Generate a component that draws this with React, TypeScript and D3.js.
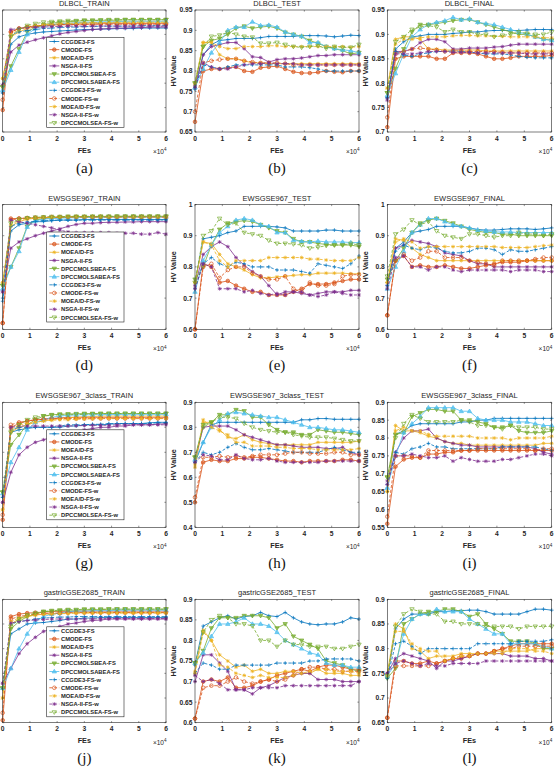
import React from 'react';
import * as d3 from 'd3';

const FES = [0, 0.3, 0.6, 0.9, 1.2, 1.5, 1.8, 2.1, 2.4, 2.7, 3.0, 3.3, 3.6, 3.9, 4.2, 4.5, 4.8, 5.1, 5.4, 5.7, 6.0];
const X_TICKS = [0, 1, 2, 3, 4, 5, 6];
const ALGORITHMS = ['CCGDE3-FS', 'CMODE-FS', 'MOEA/D-FS', 'NSGA-II-FS', 'DPCCMOLSBEA-FS', 'DPCCMOLSABEA-FS', 'CCGDE3-FS-w', 'CMODE-FS-w', 'MOEA/D-FS-w', 'NSGA-II-FS-w', 'DPCCMOLSEA-FS-w'];

const DLBCL_TRAIN = [
  [0.78, 0.88, 0.895, 0.9, 0.903, 0.905, 0.906, 0.907, 0.908, 0.909, 0.91, 0.91, 0.911, 0.911, 0.912, 0.912, 0.912, 0.913, 0.913, 0.913, 0.913],
  [0.745, 0.905, 0.912, 0.915, 0.917, 0.918, 0.919, 0.92, 0.92, 0.921, 0.921, 0.921, 0.922, 0.922, 0.922, 0.922, 0.922, 0.922, 0.922, 0.922, 0.922],
  [0.81, 0.895, 0.905, 0.912, 0.915, 0.918, 0.92, 0.921, 0.922, 0.923, 0.923, 0.924, 0.924, 0.924, 0.925, 0.925, 0.925, 0.925, 0.925, 0.925, 0.925],
  [0.796, 0.864, 0.878, 0.884, 0.889, 0.893, 0.897, 0.901, 0.904, 0.906, 0.908, 0.91, 0.911, 0.912, 0.913, 0.913, 0.914, 0.914, 0.915, 0.915, 0.915],
  [0.792, 0.835, 0.87, 0.905, 0.915, 0.92, 0.923, 0.925, 0.926, 0.927, 0.928, 0.928, 0.929, 0.929, 0.929, 0.93, 0.93, 0.93, 0.93, 0.93, 0.93],
  [0.786, 0.827, 0.864, 0.9, 0.912, 0.917, 0.92, 0.922, 0.923, 0.924, 0.925, 0.925, 0.926, 0.926, 0.926, 0.927, 0.927, 0.927, 0.927, 0.927, 0.927],
  [0.78, 0.9, 0.905, 0.908, 0.91, 0.912, 0.913, 0.914, 0.915, 0.915, 0.916, 0.916, 0.917, 0.917, 0.917, 0.917, 0.917, 0.918, 0.918, 0.918, 0.918],
  [0.766, 0.905, 0.912, 0.915, 0.917, 0.918, 0.919, 0.92, 0.92, 0.92, 0.921, 0.921, 0.921, 0.921, 0.921, 0.921, 0.921, 0.921, 0.921, 0.921, 0.921],
  [0.81, 0.9, 0.91, 0.915, 0.918, 0.92, 0.921, 0.922, 0.923, 0.923, 0.924, 0.924, 0.924, 0.925, 0.925, 0.925, 0.925, 0.925, 0.925, 0.925, 0.925],
  [0.796, 0.91, 0.912, 0.914, 0.915, 0.915, 0.916, 0.916, 0.917, 0.917, 0.917, 0.917, 0.917, 0.917, 0.917, 0.917, 0.917, 0.917, 0.917, 0.917, 0.917],
  [0.792, 0.895, 0.91, 0.918, 0.922, 0.925, 0.926, 0.927, 0.928, 0.928, 0.929, 0.929, 0.929, 0.93, 0.93, 0.93, 0.93, 0.93, 0.93, 0.93, 0.93],
];
const DLBCL_TEST = [
  [0.755, 0.84, 0.865, 0.875, 0.877, 0.88, 0.88, 0.88, 0.882, 0.885, 0.885, 0.885, 0.885, 0.887, 0.887, 0.887, 0.886, 0.884, 0.886, 0.888, 0.887],
  [0.675, 0.8, 0.805, 0.805, 0.808, 0.81, 0.8, 0.798, 0.808, 0.81, 0.812, 0.805, 0.798, 0.795, 0.795, 0.797, 0.8, 0.798, 0.797, 0.8, 0.8],
  [0.765, 0.87, 0.872, 0.84, 0.83, 0.83, 0.825, 0.82, 0.82, 0.818, 0.818, 0.818, 0.818, 0.818, 0.818, 0.818, 0.818, 0.818, 0.818, 0.818, 0.818],
  [0.765, 0.84, 0.86, 0.865, 0.87, 0.87, 0.855, 0.835, 0.833, 0.822, 0.828, 0.83, 0.83, 0.832, 0.835, 0.838, 0.838, 0.84, 0.84, 0.84, 0.84],
  [0.77, 0.86, 0.875, 0.88, 0.89, 0.905, 0.91, 0.905, 0.908, 0.91, 0.905, 0.895, 0.89, 0.885, 0.875, 0.868, 0.86, 0.855, 0.85, 0.842, 0.845],
  [0.76, 0.805, 0.845, 0.87, 0.9, 0.908, 0.908, 0.921, 0.912, 0.913, 0.908, 0.896, 0.89, 0.885, 0.87, 0.87, 0.86, 0.855, 0.852, 0.85, 0.845],
  [0.76, 0.815, 0.81, 0.805, 0.81, 0.815, 0.815, 0.815, 0.815, 0.815, 0.815, 0.81, 0.81, 0.81, 0.808, 0.805, 0.8, 0.8, 0.8, 0.8, 0.8],
  [0.7, 0.82, 0.825, 0.828, 0.83, 0.83, 0.825, 0.822, 0.82, 0.82, 0.82, 0.818, 0.815, 0.815, 0.815, 0.815, 0.815, 0.815, 0.815, 0.815, 0.815],
  [0.77, 0.87, 0.87, 0.86, 0.855, 0.855, 0.86, 0.86, 0.86, 0.862, 0.862, 0.86, 0.86, 0.86, 0.86, 0.86, 0.86, 0.86, 0.86, 0.858, 0.86],
  [0.76, 0.82, 0.81, 0.805, 0.805, 0.81, 0.815, 0.818, 0.818, 0.82, 0.818, 0.818, 0.818, 0.815, 0.815, 0.815, 0.815, 0.815, 0.815, 0.815, 0.815],
  [0.77, 0.86, 0.885, 0.888, 0.895, 0.89, 0.885, 0.883, 0.868, 0.868, 0.87, 0.865, 0.86, 0.858, 0.86, 0.862, 0.855, 0.86, 0.858, 0.858, 0.865],
];
const DLBCL_FINAL = [
  [0.77, 0.87, 0.885, 0.895, 0.897, 0.9, 0.9, 0.9, 0.902, 0.903, 0.905, 0.905, 0.907, 0.908, 0.908, 0.908, 0.908, 0.909, 0.91, 0.91, 0.91],
  [0.71, 0.85, 0.855, 0.855, 0.855, 0.855, 0.85, 0.85, 0.862, 0.862, 0.862, 0.86, 0.855, 0.85, 0.85, 0.852, 0.855, 0.855, 0.855, 0.855, 0.857],
  [0.79, 0.89, 0.895, 0.895, 0.89, 0.87, 0.87, 0.868, 0.868, 0.868, 0.868, 0.868, 0.866, 0.866, 0.866, 0.866, 0.866, 0.866, 0.866, 0.866, 0.866],
  [0.77, 0.865, 0.865, 0.87, 0.883, 0.89, 0.89, 0.885, 0.87, 0.87, 0.872, 0.872, 0.872, 0.874, 0.875, 0.878, 0.88, 0.88, 0.88, 0.88, 0.88],
  [0.78, 0.83, 0.87, 0.905, 0.92, 0.92, 0.922, 0.925, 0.928, 0.93, 0.93, 0.925, 0.92, 0.915, 0.91, 0.905, 0.9, 0.9, 0.895, 0.89, 0.888],
  [0.775, 0.82, 0.86, 0.895, 0.91, 0.92, 0.925, 0.928, 0.935, 0.93, 0.932, 0.925, 0.922, 0.92, 0.915, 0.91, 0.905, 0.9, 0.895, 0.89, 0.888],
  [0.77, 0.865, 0.858, 0.855, 0.86, 0.862, 0.865, 0.865, 0.866, 0.865, 0.864, 0.862, 0.86, 0.86, 0.86, 0.858, 0.855, 0.853, 0.852, 0.852, 0.852],
  [0.73, 0.86, 0.865, 0.87, 0.872, 0.87, 0.868, 0.865, 0.866, 0.866, 0.865, 0.865, 0.865, 0.865, 0.863, 0.862, 0.862, 0.862, 0.862, 0.862, 0.862],
  [0.79, 0.88, 0.89, 0.89, 0.893, 0.895, 0.895, 0.895, 0.897, 0.898, 0.898, 0.897, 0.897, 0.896, 0.896, 0.895, 0.895, 0.895, 0.895, 0.893, 0.893],
  [0.765, 0.86, 0.86, 0.86, 0.862, 0.865, 0.865, 0.865, 0.863, 0.863, 0.863, 0.862, 0.862, 0.862, 0.862, 0.862, 0.862, 0.86, 0.86, 0.86, 0.86],
  [0.78, 0.885, 0.895, 0.91, 0.915, 0.918, 0.915, 0.905, 0.91, 0.905, 0.905, 0.9, 0.9, 0.895, 0.898, 0.9, 0.905, 0.902, 0.9, 0.9, 0.905],
];
const EWS_TRAIN = [
  [0.7, 0.915, 0.935, 0.94, 0.945, 0.945, 0.948, 0.95, 0.95, 0.95, 0.952, 0.952, 0.952, 0.952, 0.952, 0.952, 0.952, 0.952, 0.952, 0.952, 0.952],
  [0.62, 0.955, 0.955, 0.956, 0.957, 0.958, 0.958, 0.959, 0.959, 0.96, 0.96, 0.96, 0.96, 0.96, 0.96, 0.96, 0.96, 0.96, 0.96, 0.96, 0.96],
  [0.75, 0.93, 0.945, 0.953, 0.956, 0.958, 0.959, 0.96, 0.96, 0.961, 0.961, 0.961, 0.962, 0.962, 0.962, 0.962, 0.962, 0.962, 0.962, 0.962, 0.962],
  [0.72, 0.86, 0.88, 0.89, 0.9, 0.908, 0.915, 0.922, 0.93, 0.936, 0.94, 0.94, 0.942, 0.943, 0.943, 0.944, 0.944, 0.945, 0.945, 0.945, 0.945],
  [0.74, 0.8, 0.86, 0.93, 0.95, 0.955, 0.957, 0.958, 0.959, 0.96, 0.96, 0.961, 0.961, 0.961, 0.962, 0.962, 0.962, 0.962, 0.962, 0.962, 0.962],
  [0.73, 0.8, 0.85, 0.928, 0.948, 0.953, 0.955, 0.956, 0.957, 0.958, 0.958, 0.959, 0.959, 0.96, 0.96, 0.96, 0.96, 0.96, 0.96, 0.96, 0.96],
  [0.69, 0.93, 0.94, 0.944, 0.946, 0.948, 0.949, 0.95, 0.95, 0.95, 0.95, 0.95, 0.95, 0.95, 0.95, 0.95, 0.95, 0.95, 0.95, 0.95, 0.95],
  [0.62, 0.95, 0.955, 0.957, 0.958, 0.959, 0.96, 0.96, 0.96, 0.96, 0.96, 0.96, 0.96, 0.96, 0.96, 0.96, 0.96, 0.96, 0.96, 0.96, 0.96],
  [0.75, 0.935, 0.95, 0.955, 0.957, 0.958, 0.959, 0.96, 0.96, 0.96, 0.96, 0.96, 0.96, 0.96, 0.96, 0.96, 0.96, 0.96, 0.96, 0.96, 0.96],
  [0.72, 0.95, 0.945, 0.94, 0.935, 0.93, 0.925, 0.918, 0.912, 0.91, 0.91, 0.91, 0.91, 0.91, 0.908, 0.908, 0.908, 0.905, 0.905, 0.91, 0.905],
  [0.74, 0.94, 0.953, 0.957, 0.959, 0.96, 0.961, 0.961, 0.962, 0.962, 0.962, 0.962, 0.962, 0.962, 0.962, 0.962, 0.962, 0.962, 0.962, 0.962, 0.962],
];
const EWS_TEST = [
  [0.75, 0.89, 0.895, 0.9, 0.91, 0.915, 0.93, 0.93, 0.93, 0.93, 0.928, 0.925, 0.915, 0.915, 0.915, 0.915, 0.918, 0.918, 0.915, 0.915, 0.915],
  [0.6, 0.81, 0.8, 0.75, 0.755, 0.74, 0.73, 0.72, 0.72, 0.71, 0.71, 0.71, 0.72, 0.73, 0.745, 0.745, 0.745, 0.75, 0.755, 0.76, 0.76],
  [0.75, 0.88, 0.875, 0.84, 0.81, 0.8, 0.79, 0.775, 0.765, 0.765, 0.768, 0.77, 0.773, 0.775, 0.775, 0.78, 0.78, 0.78, 0.78, 0.778, 0.778],
  [0.74, 0.84, 0.865, 0.88, 0.865, 0.83, 0.805, 0.785, 0.77, 0.74, 0.71, 0.72, 0.72, 0.715, 0.71, 0.715, 0.72, 0.72, 0.72, 0.725, 0.725],
  [0.76, 0.8, 0.87, 0.92, 0.94, 0.945, 0.948, 0.945, 0.935, 0.925, 0.915, 0.91, 0.89, 0.88, 0.88, 0.875, 0.872, 0.87, 0.87, 0.87, 0.865],
  [0.72, 0.82, 0.87, 0.91, 0.93, 0.95, 0.955, 0.95, 0.935, 0.93, 0.91, 0.91, 0.885, 0.882, 0.88, 0.883, 0.88, 0.88, 0.88, 0.878, 0.878],
  [0.73, 0.81, 0.83, 0.81, 0.8, 0.815, 0.81, 0.8, 0.8, 0.8, 0.79, 0.79, 0.79, 0.785, 0.78, 0.81, 0.805, 0.8, 0.795, 0.81, 0.835],
  [0.6, 0.8, 0.81, 0.765, 0.79, 0.8, 0.8, 0.78, 0.77, 0.76, 0.76, 0.77, 0.73, 0.72, 0.75, 0.74, 0.74, 0.745, 0.77, 0.775, 0.775],
  [0.75, 0.88, 0.87, 0.82, 0.8, 0.82, 0.82, 0.82, 0.82, 0.83, 0.83, 0.83, 0.83, 0.83, 0.825, 0.825, 0.822, 0.82, 0.82, 0.82, 0.83],
  [0.73, 0.81, 0.8, 0.73, 0.73, 0.73, 0.72, 0.725, 0.715, 0.71, 0.715, 0.71, 0.72, 0.72, 0.71, 0.705, 0.71, 0.72, 0.715, 0.71, 0.71],
  [0.75, 0.9, 0.915, 0.955, 0.935, 0.94, 0.91, 0.905, 0.9, 0.885, 0.875, 0.875, 0.873, 0.87, 0.86, 0.863, 0.868, 0.87, 0.87, 0.875, 0.87],
];
const EWS_FINAL = [
  [0.75, 0.86, 0.88, 0.91, 0.915, 0.92, 0.93, 0.93, 0.93, 0.93, 0.925, 0.92, 0.918, 0.918, 0.92, 0.922, 0.922, 0.922, 0.92, 0.922, 0.925],
  [0.645, 0.82, 0.835, 0.8, 0.805, 0.8, 0.8, 0.805, 0.8, 0.795, 0.795, 0.8, 0.805, 0.81, 0.815, 0.815, 0.815, 0.82, 0.82, 0.82, 0.82],
  [0.75, 0.89, 0.885, 0.86, 0.84, 0.83, 0.82, 0.82, 0.82, 0.82, 0.82, 0.82, 0.82, 0.82, 0.82, 0.82, 0.82, 0.82, 0.82, 0.82, 0.82],
  [0.74, 0.86, 0.87, 0.885, 0.88, 0.875, 0.865, 0.845, 0.84, 0.835, 0.82, 0.81, 0.81, 0.8, 0.8, 0.8, 0.8, 0.8, 0.8, 0.8, 0.8],
  [0.76, 0.82, 0.86, 0.91, 0.94, 0.95, 0.955, 0.948, 0.94, 0.93, 0.92, 0.915, 0.91, 0.91, 0.905, 0.905, 0.9, 0.9, 0.9, 0.9, 0.9],
  [0.73, 0.8, 0.85, 0.91, 0.935, 0.955, 0.955, 0.945, 0.935, 0.93, 0.925, 0.918, 0.915, 0.912, 0.912, 0.912, 0.91, 0.91, 0.91, 0.91, 0.91],
  [0.74, 0.85, 0.87, 0.86, 0.855, 0.865, 0.86, 0.85, 0.845, 0.845, 0.85, 0.86, 0.86, 0.855, 0.84, 0.855, 0.85, 0.85, 0.855, 0.86, 0.865],
  [0.645, 0.82, 0.84, 0.82, 0.83, 0.85, 0.85, 0.83, 0.83, 0.83, 0.82, 0.815, 0.81, 0.805, 0.82, 0.82, 0.82, 0.82, 0.825, 0.83, 0.83],
  [0.75, 0.88, 0.89, 0.88, 0.86, 0.865, 0.865, 0.865, 0.865, 0.865, 0.865, 0.865, 0.865, 0.865, 0.862, 0.862, 0.862, 0.862, 0.865, 0.868, 0.87],
  [0.73, 0.83, 0.835, 0.8, 0.8, 0.79, 0.8, 0.8, 0.79, 0.785, 0.79, 0.79, 0.79, 0.79, 0.79, 0.785, 0.79, 0.79, 0.79, 0.785, 0.785],
  [0.77, 0.905, 0.92, 0.95, 0.935, 0.945, 0.915, 0.9, 0.895, 0.89, 0.905, 0.905, 0.9, 0.895, 0.9, 0.9, 0.91, 0.905, 0.905, 0.9, 0.905],
];
const EWS3_TRAIN = [
  [0.52, 0.78, 0.79, 0.795, 0.8, 0.8, 0.8, 0.8, 0.805, 0.805, 0.81, 0.81, 0.81, 0.812, 0.815, 0.815, 0.815, 0.815, 0.818, 0.82, 0.82],
  [0.43, 0.8, 0.815, 0.825, 0.83, 0.832, 0.835, 0.838, 0.84, 0.84, 0.84, 0.84, 0.84, 0.84, 0.84, 0.84, 0.84, 0.84, 0.84, 0.84, 0.84],
  [0.47, 0.78, 0.8, 0.81, 0.82, 0.825, 0.83, 0.835, 0.838, 0.84, 0.842, 0.843, 0.845, 0.845, 0.845, 0.845, 0.845, 0.845, 0.845, 0.845, 0.845],
  [0.5, 0.62, 0.69, 0.72, 0.74, 0.75, 0.76, 0.765, 0.77, 0.78, 0.79, 0.795, 0.8, 0.8, 0.805, 0.805, 0.81, 0.81, 0.81, 0.812, 0.815],
  [0.54, 0.73, 0.77, 0.81, 0.83, 0.845, 0.85, 0.852, 0.853, 0.854, 0.855, 0.855, 0.855, 0.855, 0.855, 0.855, 0.855, 0.855, 0.855, 0.855, 0.855],
  [0.535, 0.66, 0.72, 0.79, 0.82, 0.83, 0.84, 0.845, 0.848, 0.85, 0.85, 0.85, 0.851, 0.851, 0.851, 0.852, 0.852, 0.852, 0.852, 0.852, 0.852],
  [0.52, 0.79, 0.8, 0.8, 0.8, 0.8, 0.8, 0.805, 0.81, 0.81, 0.81, 0.812, 0.812, 0.815, 0.815, 0.815, 0.815, 0.815, 0.815, 0.818, 0.818],
  [0.45, 0.81, 0.82, 0.825, 0.83, 0.832, 0.835, 0.835, 0.835, 0.835, 0.835, 0.835, 0.835, 0.835, 0.835, 0.835, 0.835, 0.835, 0.835, 0.835, 0.835],
  [0.47, 0.79, 0.81, 0.815, 0.82, 0.825, 0.828, 0.83, 0.83, 0.832, 0.833, 0.834, 0.835, 0.835, 0.835, 0.835, 0.835, 0.835, 0.835, 0.835, 0.835],
  [0.5, 0.8, 0.805, 0.805, 0.805, 0.805, 0.805, 0.805, 0.805, 0.806, 0.807, 0.808, 0.808, 0.808, 0.81, 0.81, 0.81, 0.81, 0.81, 0.81, 0.81],
  [0.54, 0.78, 0.81, 0.83, 0.84, 0.845, 0.848, 0.85, 0.85, 0.851, 0.852, 0.853, 0.854, 0.855, 0.855, 0.855, 0.855, 0.855, 0.855, 0.855, 0.855],
];
const EWS3_TEST = [
  [0.66, 0.74, 0.81, 0.82, 0.82, 0.82, 0.82, 0.82, 0.82, 0.82, 0.82, 0.82, 0.82, 0.83, 0.83, 0.835, 0.835, 0.832, 0.832, 0.832, 0.832],
  [0.5, 0.66, 0.67, 0.665, 0.665, 0.675, 0.675, 0.68, 0.68, 0.675, 0.67, 0.665, 0.665, 0.66, 0.665, 0.665, 0.665, 0.665, 0.67, 0.67, 0.665],
  [0.64, 0.82, 0.82, 0.79, 0.76, 0.755, 0.77, 0.75, 0.74, 0.735, 0.73, 0.73, 0.73, 0.73, 0.73, 0.74, 0.74, 0.74, 0.74, 0.74, 0.745],
  [0.67, 0.8, 0.805, 0.805, 0.805, 0.79, 0.77, 0.76, 0.75, 0.74, 0.73, 0.73, 0.725, 0.72, 0.72, 0.72, 0.715, 0.715, 0.72, 0.7, 0.69],
  [0.68, 0.81, 0.82, 0.85, 0.85, 0.87, 0.865, 0.84, 0.84, 0.81, 0.79, 0.78, 0.78, 0.77, 0.77, 0.79, 0.785, 0.78, 0.78, 0.775, 0.77],
  [0.67, 0.74, 0.8, 0.83, 0.855, 0.86, 0.855, 0.85, 0.845, 0.84, 0.84, 0.83, 0.82, 0.81, 0.8, 0.8, 0.795, 0.79, 0.79, 0.785, 0.78],
  [0.66, 0.7, 0.69, 0.7, 0.72, 0.735, 0.72, 0.71, 0.71, 0.715, 0.71, 0.705, 0.7, 0.7, 0.7, 0.7, 0.71, 0.72, 0.71, 0.7, 0.7],
  [0.52, 0.68, 0.68, 0.685, 0.68, 0.685, 0.68, 0.685, 0.69, 0.69, 0.69, 0.695, 0.7, 0.7, 0.695, 0.695, 0.695, 0.7, 0.7, 0.69, 0.69],
  [0.65, 0.83, 0.8, 0.785, 0.77, 0.74, 0.74, 0.725, 0.725, 0.725, 0.72, 0.72, 0.715, 0.715, 0.715, 0.71, 0.71, 0.71, 0.71, 0.71, 0.715],
  [0.66, 0.69, 0.685, 0.67, 0.67, 0.69, 0.675, 0.67, 0.67, 0.675, 0.665, 0.66, 0.66, 0.66, 0.66, 0.66, 0.665, 0.665, 0.665, 0.665, 0.665],
  [0.68, 0.8, 0.82, 0.84, 0.84, 0.835, 0.815, 0.8, 0.79, 0.785, 0.78, 0.78, 0.77, 0.765, 0.76, 0.76, 0.76, 0.755, 0.75, 0.745, 0.745],
];
const EWS3_FINAL = [
  [0.66, 0.81, 0.82, 0.835, 0.84, 0.84, 0.84, 0.84, 0.84, 0.845, 0.845, 0.85, 0.85, 0.855, 0.855, 0.855, 0.855, 0.855, 0.855, 0.855, 0.855],
  [0.56, 0.72, 0.74, 0.745, 0.745, 0.755, 0.755, 0.76, 0.76, 0.765, 0.765, 0.765, 0.765, 0.765, 0.765, 0.765, 0.765, 0.765, 0.765, 0.765, 0.765],
  [0.65, 0.835, 0.82, 0.82, 0.815, 0.805, 0.8, 0.79, 0.785, 0.785, 0.78, 0.78, 0.78, 0.78, 0.78, 0.78, 0.78, 0.78, 0.78, 0.785, 0.785],
  [0.68, 0.76, 0.8, 0.82, 0.82, 0.825, 0.8, 0.79, 0.785, 0.78, 0.78, 0.775, 0.775, 0.775, 0.775, 0.775, 0.775, 0.775, 0.77, 0.76, 0.755],
  [0.69, 0.81, 0.815, 0.86, 0.87, 0.88, 0.88, 0.875, 0.875, 0.85, 0.85, 0.845, 0.84, 0.83, 0.83, 0.835, 0.82, 0.815, 0.815, 0.815, 0.82],
  [0.66, 0.75, 0.815, 0.84, 0.86, 0.885, 0.885, 0.885, 0.885, 0.875, 0.875, 0.855, 0.85, 0.85, 0.85, 0.845, 0.845, 0.845, 0.84, 0.835, 0.835],
  [0.67, 0.76, 0.755, 0.77, 0.775, 0.785, 0.775, 0.775, 0.77, 0.77, 0.77, 0.77, 0.77, 0.77, 0.775, 0.775, 0.775, 0.775, 0.775, 0.77, 0.765],
  [0.58, 0.75, 0.75, 0.75, 0.745, 0.765, 0.765, 0.765, 0.765, 0.765, 0.765, 0.77, 0.77, 0.77, 0.77, 0.77, 0.77, 0.77, 0.765, 0.77, 0.77],
  [0.65, 0.82, 0.83, 0.82, 0.82, 0.81, 0.805, 0.805, 0.805, 0.805, 0.805, 0.8, 0.8, 0.8, 0.8, 0.795, 0.8, 0.8, 0.8, 0.8, 0.805],
  [0.67, 0.75, 0.75, 0.755, 0.75, 0.745, 0.745, 0.75, 0.735, 0.745, 0.74, 0.735, 0.735, 0.735, 0.74, 0.74, 0.745, 0.75, 0.755, 0.755, 0.75],
  [0.69, 0.8, 0.84, 0.865, 0.855, 0.845, 0.845, 0.845, 0.845, 0.85, 0.845, 0.835, 0.835, 0.83, 0.825, 0.835, 0.83, 0.83, 0.83, 0.825, 0.825],
];
const GASTRIC_TRAIN = [
  [0.72, 0.83, 0.84, 0.85, 0.852, 0.853, 0.855, 0.857, 0.86, 0.86, 0.862, 0.862, 0.863, 0.863, 0.863, 0.863, 0.863, 0.863, 0.863, 0.863, 0.863],
  [0.655, 0.865, 0.87, 0.872, 0.873, 0.874, 0.875, 0.875, 0.875, 0.876, 0.876, 0.876, 0.876, 0.876, 0.876, 0.876, 0.876, 0.876, 0.876, 0.876, 0.876],
  [0.7, 0.85, 0.86, 0.865, 0.868, 0.87, 0.87, 0.872, 0.872, 0.873, 0.873, 0.873, 0.873, 0.873, 0.873, 0.873, 0.873, 0.873, 0.873, 0.873, 0.873],
  [0.73, 0.76, 0.79, 0.81, 0.823, 0.835, 0.84, 0.845, 0.85, 0.852, 0.855, 0.857, 0.858, 0.86, 0.86, 0.86, 0.86, 0.86, 0.86, 0.86, 0.86],
  [0.72, 0.84, 0.855, 0.865, 0.87, 0.875, 0.876, 0.877, 0.878, 0.878, 0.879, 0.879, 0.879, 0.88, 0.88, 0.88, 0.88, 0.88, 0.88, 0.88, 0.88],
  [0.72, 0.76, 0.8, 0.83, 0.855, 0.865, 0.87, 0.872, 0.875, 0.876, 0.876, 0.877, 0.877, 0.877, 0.878, 0.878, 0.878, 0.878, 0.878, 0.878, 0.878],
  [0.72, 0.85, 0.855, 0.857, 0.86, 0.862, 0.863, 0.864, 0.864, 0.865, 0.865, 0.865, 0.865, 0.865, 0.865, 0.865, 0.865, 0.865, 0.865, 0.865, 0.865],
  [0.67, 0.86, 0.865, 0.868, 0.87, 0.871, 0.872, 0.872, 0.873, 0.873, 0.873, 0.873, 0.873, 0.873, 0.873, 0.873, 0.873, 0.873, 0.873, 0.873, 0.873],
  [0.7, 0.855, 0.862, 0.866, 0.868, 0.87, 0.87, 0.871, 0.871, 0.872, 0.872, 0.872, 0.872, 0.872, 0.872, 0.872, 0.872, 0.872, 0.872, 0.872, 0.872],
  [0.73, 0.852, 0.855, 0.857, 0.858, 0.859, 0.86, 0.86, 0.86, 0.86, 0.86, 0.86, 0.861, 0.861, 0.861, 0.861, 0.861, 0.861, 0.861, 0.861, 0.861],
  [0.72, 0.845, 0.86, 0.868, 0.872, 0.875, 0.877, 0.878, 0.879, 0.879, 0.88, 0.88, 0.88, 0.88, 0.88, 0.88, 0.88, 0.88, 0.88, 0.88, 0.88],
];
const GASTRIC_TEST = [
  [0.74, 0.835, 0.845, 0.855, 0.86, 0.852, 0.858, 0.86, 0.868, 0.86, 0.858, 0.868, 0.855, 0.845, 0.84, 0.838, 0.84, 0.84, 0.845, 0.855, 0.852],
  [0.61, 0.7, 0.705, 0.7, 0.71, 0.685, 0.685, 0.69, 0.7, 0.705, 0.715, 0.72, 0.725, 0.73, 0.725, 0.735, 0.74, 0.74, 0.735, 0.73, 0.73],
  [0.725, 0.825, 0.8, 0.765, 0.75, 0.735, 0.74, 0.725, 0.73, 0.72, 0.72, 0.725, 0.725, 0.72, 0.72, 0.73, 0.72, 0.72, 0.72, 0.715, 0.715],
  [0.7, 0.765, 0.765, 0.745, 0.725, 0.68, 0.68, 0.67, 0.685, 0.69, 0.7, 0.71, 0.715, 0.72, 0.72, 0.705, 0.705, 0.705, 0.7, 0.7, 0.7],
  [0.745, 0.775, 0.83, 0.855, 0.855, 0.855, 0.86, 0.86, 0.86, 0.855, 0.83, 0.84, 0.81, 0.8, 0.79, 0.78, 0.75, 0.745, 0.74, 0.73, 0.725],
  [0.745, 0.77, 0.81, 0.84, 0.84, 0.845, 0.855, 0.84, 0.84, 0.835, 0.82, 0.8, 0.79, 0.78, 0.77, 0.765, 0.745, 0.74, 0.74, 0.735, 0.735],
  [0.72, 0.745, 0.74, 0.73, 0.73, 0.74, 0.74, 0.74, 0.74, 0.74, 0.745, 0.745, 0.745, 0.745, 0.75, 0.75, 0.755, 0.755, 0.755, 0.755, 0.75],
  [0.61, 0.685, 0.69, 0.69, 0.7, 0.71, 0.7, 0.695, 0.7, 0.705, 0.7, 0.705, 0.715, 0.73, 0.735, 0.735, 0.73, 0.73, 0.725, 0.725, 0.725],
  [0.72, 0.82, 0.8, 0.74, 0.735, 0.72, 0.715, 0.71, 0.715, 0.71, 0.71, 0.71, 0.715, 0.72, 0.725, 0.73, 0.73, 0.725, 0.725, 0.725, 0.72],
  [0.715, 0.7, 0.705, 0.695, 0.68, 0.68, 0.68, 0.685, 0.685, 0.685, 0.685, 0.69, 0.69, 0.69, 0.69, 0.69, 0.69, 0.69, 0.69, 0.69, 0.7],
  [0.745, 0.82, 0.85, 0.86, 0.855, 0.84, 0.84, 0.835, 0.8, 0.8, 0.785, 0.8, 0.79, 0.79, 0.785, 0.785, 0.785, 0.78, 0.78, 0.785, 0.79],
];
const GASTRIC_FINAL = [
  [0.74, 0.84, 0.86, 0.87, 0.87, 0.87, 0.875, 0.875, 0.877, 0.877, 0.878, 0.878, 0.875, 0.87, 0.87, 0.87, 0.87, 0.875, 0.88, 0.88, 0.878],
  [0.66, 0.775, 0.775, 0.77, 0.77, 0.775, 0.77, 0.775, 0.78, 0.78, 0.785, 0.79, 0.79, 0.795, 0.8, 0.805, 0.81, 0.81, 0.81, 0.81, 0.81],
  [0.75, 0.85, 0.84, 0.8, 0.795, 0.78, 0.785, 0.785, 0.785, 0.79, 0.79, 0.79, 0.79, 0.795, 0.795, 0.795, 0.795, 0.795, 0.8, 0.8, 0.8],
  [0.75, 0.78, 0.79, 0.785, 0.78, 0.775, 0.76, 0.775, 0.775, 0.78, 0.785, 0.79, 0.79, 0.79, 0.79, 0.785, 0.785, 0.785, 0.78, 0.78, 0.775],
  [0.74, 0.76, 0.85, 0.86, 0.87, 0.875, 0.875, 0.88, 0.88, 0.875, 0.865, 0.87, 0.85, 0.84, 0.83, 0.815, 0.815, 0.815, 0.81, 0.8, 0.8],
  [0.745, 0.77, 0.83, 0.86, 0.87, 0.87, 0.88, 0.875, 0.875, 0.875, 0.86, 0.85, 0.84, 0.83, 0.83, 0.81, 0.81, 0.81, 0.81, 0.805, 0.8],
  [0.74, 0.81, 0.815, 0.805, 0.79, 0.8, 0.8, 0.8, 0.8, 0.8, 0.8, 0.81, 0.81, 0.81, 0.81, 0.81, 0.815, 0.815, 0.815, 0.815, 0.818],
  [0.66, 0.765, 0.765, 0.765, 0.765, 0.765, 0.77, 0.775, 0.78, 0.785, 0.785, 0.79, 0.79, 0.795, 0.8, 0.8, 0.805, 0.805, 0.805, 0.805, 0.805],
  [0.745, 0.835, 0.835, 0.81, 0.8, 0.795, 0.795, 0.775, 0.78, 0.785, 0.785, 0.79, 0.79, 0.79, 0.79, 0.8, 0.8, 0.8, 0.795, 0.795, 0.79],
  [0.75, 0.77, 0.775, 0.77, 0.765, 0.77, 0.765, 0.765, 0.77, 0.77, 0.77, 0.77, 0.775, 0.775, 0.775, 0.775, 0.775, 0.775, 0.775, 0.775, 0.775],
  [0.745, 0.845, 0.87, 0.88, 0.875, 0.87, 0.87, 0.855, 0.855, 0.85, 0.85, 0.85, 0.845, 0.845, 0.845, 0.845, 0.84, 0.845, 0.845, 0.845, 0.845],
];

const PANEL_TITLES = ['DLBCL_TRAIN', 'DLBCL_TEST', 'DLBCL_FINAL', 'EWSGSE967_TRAIN', 'EWSGSE967_TEST', 'EWSGSE967_FINAL', 'EWSGSE967_3class_TRAIN', 'EWSGSE967_3class_TEST', 'EWSGSE967_3class_FINAL', 'gastricGSE2685_TRAIN', 'gastricGSE2685_TEST', 'gastricGSE2685_FINAL'];
const PANEL_LETTERS = ['(a)', '(b)', '(c)', '(d)', '(e)', '(f)', '(g)', '(h)', '(i)', '(j)', '(k)', '(l)'];
const PANEL_DATA = [DLBCL_TRAIN, DLBCL_TEST, DLBCL_FINAL, EWS_TRAIN, EWS_TEST, EWS_FINAL, EWS3_TRAIN, EWS3_TEST, EWS3_FINAL, GASTRIC_TRAIN, GASTRIC_TEST, GASTRIC_FINAL];
const Y_TICKS = [
  [0.7, 0.75, 0.8, 0.85, 0.9, 0.95],
  [0.65, 0.7, 0.75, 0.8, 0.85, 0.9, 0.95],
  [0.7, 0.75, 0.8, 0.85, 0.9, 0.95],
  [0.6, 0.7, 0.8, 0.9, 1],
  [0.6, 0.7, 0.8, 0.9, 1],
  [0.6, 0.7, 0.8, 0.9, 1],
  [0.4, 0.5, 0.6, 0.7, 0.8, 0.9],
  [0.4, 0.5, 0.6, 0.7, 0.8, 0.9],
  [0.55, 0.6, 0.65, 0.7, 0.75, 0.8, 0.85, 0.9],
  [0.65, 0.7, 0.75, 0.8, 0.85, 0.9],
  [0.6, 0.65, 0.7, 0.75, 0.8, 0.85, 0.9],
  [0.65, 0.7, 0.75, 0.8, 0.85, 0.9],
];

// styling / layout (not data)
const COLORS = ['#0072BD', '#D95319', '#EDB120', '#7E2F8E', '#77AC30', '#4DBEEE', '#0072BD', '#D95319', '#EDB120', '#7E2F8E', '#77AC30'];
const DASHED = [false, false, false, false, false, false, true, true, true, true, true];
const MARKERS = ['+', 'o', '*', '*', 'v', '^', '+', 'o', '*', '*', 'v'];
const FILLED = [false, true, false, false, true, true, false, false, false, false, false];
const COL_LEFT = [2.7, 195, 387.3];
const COL_RIGHT = [166, 359, 551.7];
const ROW_TOP = [10, 204.5, 402.3, 599.3];
const ROW_BOTTOM = [132, 329.3, 527.3, 722.7];
const AX = '#262626';
const SANS = '"Liberation Sans", Arial, Helvetica, sans-serif';

function markerPath(type: string, s: number) {
  const d = s * 0.72;
  if (type === '+') return `M${-s},0H${s}M0,${-s}V${s}`;
  if (type === '*') return `M${-s},0H${s}M0,${-s}V${s}M${-d},${-d}L${d},${d}M${-d},${d}L${d},${-d}`;
  if (type === 'v') return `M${-s},${-s * 0.65}L${s},${-s * 0.65}L0,${s}Z`;
  if (type === '^') return `M${-s},${s * 0.65}L${s},${s * 0.65}L0,${-s}Z`;
  return '';
}

function Marker({ k, x, y }: { k: number; x: number; y: number }) {
  const t = MARKERS[k];
  const c = COLORS[k];
  if (t === 'o') {
    return <circle cx={x} cy={y} r={1.8} fill={FILLED[k] ? c : 'none'} fillOpacity={FILLED[k] ? 0.55 : 0} stroke={c} strokeWidth={0.7} />;
  }
  const s = t === 'v' || t === '^' ? 2.2 : 1.9;
  return (
    <path
      d={markerPath(t, s)}
      transform={`translate(${x},${y})`}
      fill={FILLED[k] ? c : 'none'}
      fillOpacity={FILLED[k] ? 0.7 : 0}
      stroke={c}
      strokeWidth={0.7}
    />
  );
}

function Panel({ idx }: { idx: number }) {
  const col = idx % 3;
  const row = Math.floor(idx / 3);
  const left = COL_LEFT[col];
  const right = COL_RIGHT[col];
  const top = ROW_TOP[row];
  const bottom = ROW_BOTTOM[row];
  const yt = Y_TICKS[idx];
  const x = d3.scaleLinear().domain([0, 6]).range([left, right]);
  const y = d3.scaleLinear().domain([yt[0], yt[yt.length - 1]]).range([bottom, top]);
  const line = d3.line<number>().x((_, i) => x(FES[i])).y((v) => y(v));
  const data = PANEL_DATA[idx];
  const cx = (left + right) / 2;
  const cy = (top + bottom) / 2;
  const fmt = (v: number) => String(+v.toFixed(2));
  const tl = 1.6;
  const isFirstCol = col === 0;
  const lgX = left + 44;
  const lgY = top + 27.5;
  return (
    <g>
      <rect x={left} y={top} width={right - left} height={bottom - top} fill="#fff" />
      {data.map((s, k) => (
        <g key={k}>
          <path d={line(s) || ''} fill="none" stroke={COLORS[k]} strokeWidth={0.8} strokeDasharray={DASHED[k] ? '3,1.8' : undefined} />
          {s.map((v, i) => (
            <Marker key={i} k={k} x={x(FES[i])} y={y(v)} />
          ))}
        </g>
      ))}
      <rect x={left} y={top} width={right - left} height={bottom - top} fill="none" stroke={AX} strokeWidth={0.6} />
      {X_TICKS.map((t) => (
        <g key={'x' + t}>
          <line x1={x(t)} x2={x(t)} y1={bottom} y2={bottom - tl} stroke={AX} strokeWidth={0.5} />
          <line x1={x(t)} x2={x(t)} y1={top} y2={top + tl} stroke={AX} strokeWidth={0.5} />
          <text x={x(t)} y={bottom + 8.7} textAnchor="middle" fontSize={6.7} fontWeight="bold" fill={AX} fontFamily={SANS}>{t}</text>
        </g>
      ))}
      {yt.map((t) => (
        <g key={'y' + t}>
          <line x1={left} x2={left + tl} y1={y(t)} y2={y(t)} stroke={AX} strokeWidth={0.5} />
          <line x1={right} x2={right - tl} y1={y(t)} y2={y(t)} stroke={AX} strokeWidth={0.5} />
          {!isFirstCol && (
            <text x={left - 2.5} y={y(t) + 2.4} textAnchor="end" fontSize={6.7} fontWeight="bold" fill={AX} fontFamily={SANS}>{fmt(t)}</text>
          )}
        </g>
      ))}
      <text x={cx} y={top - 4} textAnchor="middle" fontSize={7.5} fill={AX} fontFamily={SANS}>{PANEL_TITLES[idx]}</text>
      <text x={cx} y={bottom + 20.6} textAnchor="middle" fontSize={7.3} fontWeight="bold" fill={AX} fontFamily={SANS}>FEs</text>
      <text x={right + 0.5} y={bottom + 22} textAnchor="end" fontSize={6.5} fill={AX} fontFamily={SANS}>
        ×10<tspan dy={-2.8} fontSize={4.6}>4</tspan>
      </text>
      {!isFirstCol && (
        <text transform={`translate(${left - 19.4},${cy}) rotate(-90)`} textAnchor="middle" fontSize={7.3} fontWeight="bold" fill={AX} fontFamily={SANS}>HV Value</text>
      )}
      <text x={cx} y={bottom + 40.5} textAnchor="middle" fontSize={15} fill="#111" fontFamily='"Liberation Serif", "Times New Roman", serif'>{PANEL_LETTERS[idx]}</text>
      {isFirstCol && (
        <g>
          <rect x={lgX} y={lgY} width={77.3} height={90} fill="#fff" stroke={AX} strokeWidth={0.6} />
          {ALGORITHMS.map((name, k) => {
            const ly = lgY + 4 + k * 8.14;
            return (
              <g key={name}>
                <line x1={lgX + 2.6} x2={lgX + 12.6} y1={ly} y2={ly} stroke={COLORS[k]} strokeWidth={0.8} strokeDasharray={DASHED[k] ? '3,1.8' : undefined} />
                <Marker k={k} x={lgX + 7.6} y={ly} />
                <text x={lgX + 14.3} y={ly + 2.1} fontSize={5.8} fontWeight="bold" fill={AX} fontFamily={SANS}>{name}</text>
              </g>
            );
          })}
        </g>
      )}
    </g>
  );
}

export default function App() {
  return (
    <div style={{ position: 'absolute', left: 0, top: 0, width: 558, height: 781, background: '#fff' }}>
      <svg width={558} height={781} viewBox="0 0 558 781" style={{ display: 'block' }}>
        <rect x={0} y={0} width={558} height={781} fill="#fff" />
        {PANEL_DATA.map((_, i) => (
          <Panel key={i} idx={i} />
        ))}
      </svg>
    </div>
  );
}
